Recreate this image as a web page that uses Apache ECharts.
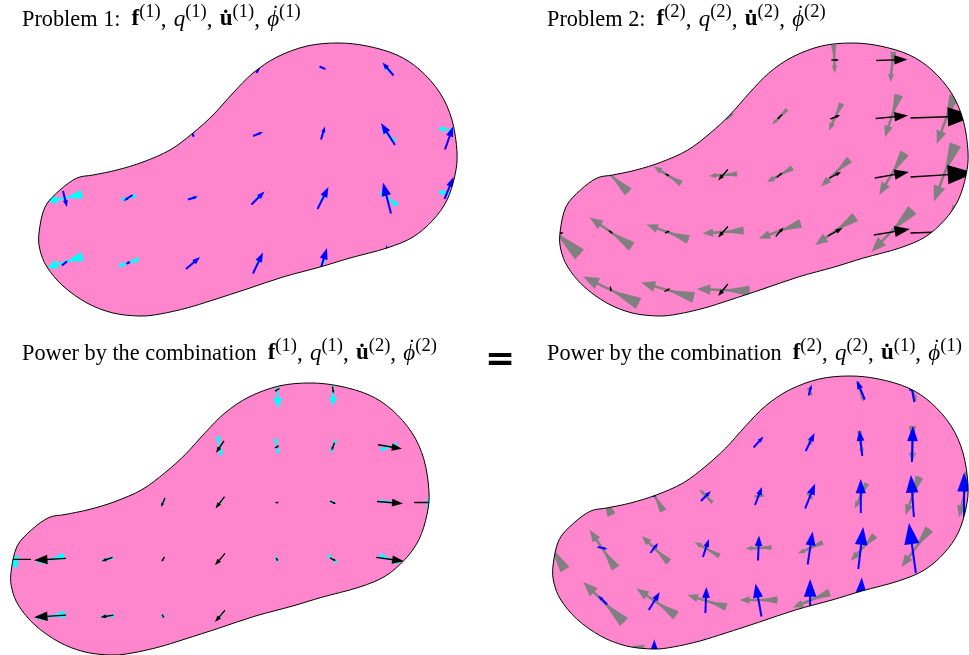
<!DOCTYPE html>
<html><head><meta charset="utf-8">
<script src="https://cdn.jsdelivr.net/npm/echarts@6/dist/echarts.min.js"></script>
<style>html,body{margin:0;padding:0;background:#fff}#c{width:969px;height:655px}</style>
</head><body><div id="c"></div>
<script>
// ---- blob boundary (data units, shared by all four panels) ----
const blobX = [0.01,0.07,0.22,0.39,0.55,0.79,1.05,1.32,1.55,1.75,1.95,2.15,2.39,2.69,3.00,3.29,3.59,3.82,4.02,4.14,4.19,4.17,4.09,3.95,3.75,3.49,3.12,2.82,2.45,2.09,1.75,1.49,1.22,1.02,0.75,0.49,0.25,0.09,0.02];
const blobY = [0.83,1.09,1.26,1.38,1.41,1.46,1.54,1.66,1.83,2.01,2.23,2.43,2.59,2.70,2.73,2.70,2.61,2.46,2.23,1.96,1.64,1.41,1.16,0.96,0.79,0.68,0.58,0.49,0.39,0.27,0.16,0.08,0.02,0.00,0.03,0.13,0.30,0.49,0.66];

// ---- vector fields: [x, y, u, v] (arrow centred on x,y) ----
const p1Blue = [[2.20,2.46,0.03,0.06],[2.85,2.48,0.07,-0.03],[3.50,2.47,-0.11,0.13],[1.55,1.81,0.02,-0.05],[2.20,1.82,0.10,0.04],[2.85,1.83,0.04,0.13],[3.50,1.82,-0.14,0.22],[4.11,1.78,0.08,0.23],[0.27,1.17,0.04,-0.16],[0.90,1.18,-0.09,-0.06],[1.55,1.18,0.10,0.03],[2.20,1.18,0.13,0.13],[2.85,1.18,0.11,0.22],[3.49,1.18,-0.08,0.31],[4.11,1.28,0.09,0.22],[0.27,0.53,0.06,0.05],[0.90,0.53,-0.04,-0.02],[1.55,0.53,0.14,0.12],[2.20,0.53,0.10,0.21],[2.85,0.55,0.08,0.26],[3.50,0.53,-0.03,0.36]];
const p1Cyan = [[3.50,2.46,-0.08,0.04],[2.85,1.82,-0.03,-0.02],[3.50,1.81,-0.14,0.12],[4.12,1.86,-0.25,0.03],[0.27,1.18,-0.34,-0.07],[0.90,1.18,-0.16,-0.04],[1.55,1.18,-0.08,-0.01],[2.20,1.18,-0.06,-0.02],[2.85,1.18,-0.06,-0.03],[3.50,1.18,-0.18,0.14],[4.12,1.23,-0.25,0.02],[0.27,0.54,-0.35,-0.11],[0.90,0.53,-0.21,-0.07],[1.55,0.53,-0.04,-0.02],[2.20,0.53,-0.05,-0.03],[2.85,0.54,-0.05,-0.03]];

const p2Black = [[2.83,2.56,0.08,0],[3.41,2.56,0.32,0.01],[2.26,1.99,-0.05,-0.05],[2.83,1.99,0.10,0.04],[3.41,1.99,0.33,0.03],[3.93,1.99,0.66,0.02],[1.11,1.41,0.04,-0.02],[1.68,1.41,-0.10,-0.11],[2.26,1.41,0.06,0.05],[2.83,1.41,0.12,0.06],[3.41,1.41,0.35,0.06],[3.93,1.41,0.66,0.04],[0.01,0.83,0.08,0],[0.53,0.84,0.04,-0.03],[1.11,0.84,0.05,0.02],[1.68,0.84,-0.10,-0.11],[2.26,0.84,0.08,0.09],[2.83,0.84,0.15,0.08],[3.41,0.84,0.37,0.06],[3.93,0.84,0.66,0.02],[0.53,0.27,0.01,-0.05],[1.11,0.26,0.06,0.03],[1.68,0.26,-0.10,-0.12]];
const p2Gray = [[2.82,2.57,0.01,-0.28],[3.41,2.49,-0.03,-0.30],[1.74,1.99,-0.08,-0.06],[2.26,1.99,-0.15,-0.15],[2.83,1.99,-0.13,-0.27],[3.41,2.00,-0.14,-0.42],[3.96,1.96,-0.18,-0.48],[0.53,1.41,-0.36,0.34],[1.11,1.41,-0.28,0.17],[1.68,1.41,-0.29,-0.02],[2.26,1.41,-0.26,-0.14],[2.83,1.43,-0.29,-0.27],[3.41,1.42,-0.26,-0.42],[3.95,1.43,-0.22,-0.57],[-0.04,0.84,-0.50,0.45],[0.53,0.84,-0.43,0.29],[1.11,0.84,-0.43,0.15],[1.68,0.84,-0.42,-0.03],[2.26,0.85,-0.43,-0.15],[2.83,0.85,-0.41,-0.28],[3.41,0.85,-0.42,-0.42],[3.96,0.84,-0.25,-0.50],[0.53,0.26,-0.57,0.27],[1.11,0.26,-0.54,0.15],[1.68,0.26,-0.54,0.02],[2.26,0.26,-0.50,-0.05]];

const p3Black = [[2.67,2.66,-0.05,-0.03],[3.23,2.66,0.01,-0.07],[2.10,2.09,-0.08,-0.12],[2.67,2.09,0.04,0.02],[3.23,2.09,-0.03,-0.08],[3.80,2.09,0.24,-0.04],[4.37,2.09,0.50,0],[1.53,1.53,-0.04,-0.09],[2.10,1.53,-0.09,-0.12],[2.67,1.53,0.03,0],[3.23,1.53,0.06,-0.03],[3.80,1.53,0.26,-0.02],[4.37,1.53,0.66,0],[0.97,1.53,0.04,-0.02],[-0.17,0.96,-0.76,0],[0.40,0.96,-0.32,-0.02],[0.97,0.96,-0.11,-0.04],[1.53,0.96,-0.03,-0.05],[2.10,0.96,-0.10,-0.12],[2.67,0.96,0.02,-0.03],[3.23,0.96,0.06,-0.03],[3.80,0.96,0.28,-0.04],[0.40,0.39,-0.32,-0.02],[0.97,0.39,-0.13,-0.02],[1.53,0.39,0.02,-0.03],[2.10,0.39,-0.10,-0.12]];
const p3Cyan = [[2.67,2.66,0.03,-0.36],[3.23,2.66,0,-0.32],[2.10,2.09,0.04,-0.20],[2.67,2.09,0.03,-0.16],[3.23,2.09,-0.05,-0.13],[3.80,2.09,0.18,0.06],[0.97,1.53,0.04,-0.05],[1.53,1.53,-0.03,-0.03],[2.10,1.53,-0.04,-0.05],[3.23,1.53,0.06,-0.02],[3.80,1.53,0.18,-0.03],[4.37,1.53,0.40,0.02],[0.40,0.96,-0.28,-0.06],[-0.17,0.96,-0.50,0.05],[0.97,0.96,-0.12,-0.03],[2.67,0.96,0.03,-0.05],[3.23,0.96,0.10,-0.08],[3.80,0.96,0.20,-0.08],[0.40,0.39,-0.30,-0.04],[0.97,0.39,-0.14,-0.02],[1.53,0.39,-0.04,0],[2.10,0.39,-0.04,-0.04]];

const p4Blue = [[2.60,2.59,0.03,0.11],[3.11,2.59,-0.08,0.19],[3.63,2.57,-0.04,0.20],[2.08,2.07,0.10,0.11],[2.60,2.07,0.09,0.18],[3.11,2.06,-0.03,0.26],[3.63,2.05,0.01,0.36],[1.03,1.54,0,0.04],[1.55,1.53,0.10,0.10],[2.08,1.53,0.07,0.18],[2.60,1.53,0.10,0.25],[3.11,1.53,0,0.34],[3.63,1.53,-0.03,0.42],[4.15,1.54,0,0.45],[0.51,1.01,0.10,-0.02],[1.03,1.01,0.08,0.10],[1.55,1.01,0.06,0.18],[2.08,1.01,0.01,0.25],[2.60,1.01,0.05,0.33],[3.11,1.01,0.05,0.42],[3.63,1.01,-0.07,0.50],[0.51,0.49,-0.09,0.09],[1.03,0.48,0.11,0.18],[1.55,0.49,0.01,0.26],[2.08,0.49,-0.06,0.33],[2.60,0.49,0,0.42],[3.11,0.49,0.02,0.45],[1.03,-0.03,0,0.25],[1.55,-0.03,-0.02,0.28]];
const p4Gray = [[2.60,2.57,0.04,-0.08],[3.11,2.57,0.06,-0.20],[3.63,2.59,0.08,-0.24],[2.60,2.07,0.03,-0.06],[3.11,2.06,0.03,-0.24],[3.63,2.05,0,-0.36],[1.03,1.54,-0.18,0.32],[1.55,1.53,-0.13,0.13],[2.08,1.53,-0.10,-0.01],[2.60,1.53,0.06,-0.06],[3.11,1.53,-0.12,-0.25],[3.63,1.53,-0.14,-0.38],[4.15,1.54,-0.10,-0.45],[0.51,1.54,-0.18,0.40],[-0.01,1.02,-0.28,0.45],[0.51,1.00,-0.26,0.38],[1.04,1.00,-0.27,0.26],[1.56,1.00,-0.25,0.14],[2.08,1.01,-0.26,-0.01],[2.60,1.01,-0.25,-0.11],[3.13,1.01,-0.24,-0.25],[3.66,1.01,-0.28,-0.38],[0.52,0.47,-0.41,0.40],[1.05,0.47,-0.40,0.27],[1.56,0.48,-0.39,0.12],[2.08,0.49,-0.38,0],[2.61,0.49,-0.37,-0.15],[3.11,0.49,-0.30,-0.20],[1.03,-0.03,-0.45,0.12],[1.55,-0.03,-0.45,0.05]];

// ---- titles ----
const titleHeads = ['Problem 1:', 'Problem 2:', 'Power by the combination', 'Power by the combination'];
const titleSups = [['(1)','(1)','(1)','(1)'], ['(2)','(2)','(2)','(2)'], ['(1)','(1)','(2)','(2)'], ['(2)','(2)','(1)','(1)']];

// ---- styles ----
const PINK = '#ff85cc';
const BLUE = {color:'#0000ff', lw:2, hl:0.42, hw:0.15};
const BLACK = {color:'#000000', lw:1.4, hl:0.42, hw:0.15};
const CYAN = {color:'#00ffff', lw:2, hl:0.28, hw:0.13, wedge:true, wl:0.48, ww:0.13};
const GRAY = {color:'#808080', lw:2.5, hl:0.26, hw:0.10, wedge:true, wl:0.5, ww:0.10};

const panels = [
  {left:38,  top:43,  wedge:p1Cyan, ws:CYAN, plain:p1Blue,  ps:BLUE,  mask:[-0.38,4.52,-0.19,3.16], tl:22,  tt:3},
  {left:559, top:43,  wedge:p2Gray, ws:GRAY, plain:p2Black, ps:BLACK, mask:[-0.39,4.40,-0.19,3.16], tl:547, tt:3},
  {left:10,  top:383, wedge:p3Cyan, ws:CYAN, plain:p3Black, ps:BLACK, mask:[-0.20,4.70,-0.30,3.21], tl:22,  tt:337},
  {left:552, top:376, wedge:p4Gray, ws:GRAY, plain:p4Blue,  ps:BLUE,  mask:[-0.32,4.40,-0.30,3.14], tl:547, tt:337}
];
const XW = 4.2, YH = 2.73;

function blobPath(api) {
  const P = blobX.map((x, i) => api.coord([x, blobY[i]]));
  const n = P.length;
  let d = 'M' + P[0][0] + ',' + P[0][1];
  for (let i = 0; i < n; i++) {
    const p0 = P[(i - 1 + n) % n], p1 = P[i], p2 = P[(i + 1) % n], p3 = P[(i + 2) % n];
    const c1x = p1[0] + (p2[0] - p0[0]) / 6, c1y = p1[1] + (p2[1] - p0[1]) / 6;
    const c2x = p2[0] - (p3[0] - p1[0]) / 6, c2y = p2[1] - (p3[1] - p1[1]) / 6;
    d += 'C' + c1x + ',' + c1y + ' ' + c2x + ',' + c2y + ' ' + p2[0] + ',' + p2[1];
  }
  return d + 'Z';
}
function maskRect(api, m) {
  const tl = api.coord([m[0], m[3]]), bl = api.coord([m[0], m[2]]), br = api.coord([m[1], m[2]]), tr = api.coord([m[1], m[3]]);
  return 'M' + tl + 'L' + bl + 'L' + br + 'L' + tr + 'Z';
}
function arrowRender(st) {
  return function (params, api) {
    const x = api.value(0), y = api.value(1), u = api.value(2), v = api.value(3);
    const t = api.coord([x - u / 2, y - v / 2]);
    const h = api.coord([x + u / 2, y + v / 2]);
    const dx = h[0] - t[0], dy = h[1] - t[1];
    const L = Math.hypot(dx, dy);
    if (L < 0.5) return null;
    const ux = dx / L, uy = dy / L, nx = -uy, ny = ux;
    const hl = st.hl * L, hw = Math.max(st.hw * L, 1.2);
    const bx = h[0] - ux * hl, by = h[1] - uy * hl;
    const ch = [];
    if (st.wedge) {
      const wl = st.wl * L, ww = Math.max(st.ww * L, 1);
      ch.push({type:'polygon', shape:{points:[[t[0] + nx * ww, t[1] + ny * ww], [t[0] - nx * ww, t[1] - ny * ww], [t[0] + ux * wl, t[1] + uy * wl]]}, style:{fill:st.color}});
    }
    ch.push({type:'line', shape:{x1:t[0], y1:t[1], x2:bx + ux, y2:by + uy}, style:{stroke:st.color, lineWidth:st.lw}});
    ch.push({type:'polygon', shape:{points:[[h[0], h[1]], [bx + nx * hw, by + ny * hw], [bx - nx * hw, by - ny * hw]]}, style:{fill:st.color}});
    return {type:'group', children:ch};
  };
}

const SERIF = "'Liberation Serif', 'DejaVu Serif', serif";
const base = {fontFamily:SERIF, fontWeight:'normal', color:'#000', verticalAlign:'bottom'};
const rich = {
  T: Object.assign({}, base, {fontSize:22.3, lineHeight:28}),
  g: Object.assign({}, base, {fontSize:18, lineHeight:28, width:11}),
  n: Object.assign({}, base, {fontSize:23, lineHeight:28, width:13}),
  b: Object.assign({}, base, {fontSize:23, fontWeight:'bold', lineHeight:28}),
  i: Object.assign({}, base, {fontSize:23, fontStyle:'italic', lineHeight:28}),
  d: Object.assign({}, base, {fontSize:23, lineHeight:20, verticalAlign:'top', width:0.01}),
  s: Object.assign({}, base, {fontSize:18.5, lineHeight:22, verticalAlign:'top'})
};
function titleText(k) {
  const s = titleSups[k];
  return '{T|' + titleHeads[k] + '}{g| }{b|f}{s|' + s[0] + '}{n|,}{i|q}{s|' + s[1] + '}{n|,}{b|u\u0307}{s|' + s[2] + '}{n|,}{d|\u2009\u02D9}{i|\u03D5}{s|' + s[3] + '}';
}

const grids = [], xAxes = [], yAxes = [], series = [], titles = [];
panels.forEach((p, k) => {
  grids.push({left:p.left, top:p.top, width:XW * 100, height:YH * 100});
  xAxes.push({type:'value', gridIndex:k, min:0, max:XW, show:false});
  yAxes.push({type:'value', gridIndex:k, min:0, max:YH, show:false});
  const sb = {type:'custom', coordinateSystem:'cartesian2d', xAxisIndex:k, yAxisIndex:k, silent:true, clip:false};
  series.push(Object.assign({}, sb, {z:1, data:[[0, 0]], renderItem:(pa, api) => ({type:'path', shape:{pathData:blobPath(api)}, style:{fill:PINK}})}));
  series.push(Object.assign({}, sb, {z:2, data:p.wedge, renderItem:arrowRender(p.ws)}));
  series.push(Object.assign({}, sb, {z:3, data:p.plain, renderItem:arrowRender(p.ps)}));
  series.push(Object.assign({}, sb, {z:4, data:[[0, 0]], renderItem:(pa, api) => ({type:'path', shape:{pathData:maskRect(api, p.mask) + blobPath(api)}, style:{fill:'#ffffff'}})}));
  series.push(Object.assign({}, sb, {z:5, data:[[0, 0]], renderItem:(pa, api) => ({type:'path', shape:{pathData:blobPath(api)}, style:{fill:'none', stroke:'#000', lineWidth:1}})}));
  titles.push({left:p.tl, top:p.tt, padding:0, text:titleText(k), textStyle:{fontWeight:'normal', fontFamily:SERIF, rich:rich}, z:8});
});

const chart = echarts.init(document.getElementById('c'), null, {renderer:'canvas'});
chart.setOption({
  backgroundColor:'#ffffff',
  animation:false,
  title:titles,
  grid:grids, xAxis:xAxes, yAxis:yAxes,
  series:series,
  graphic:[{type:'text', left:485, top:343, z:10, style:{text:'=', font:"bold 36px 'DejaVu Sans'", fill:'#000'}}]
});
</script></body></html>
